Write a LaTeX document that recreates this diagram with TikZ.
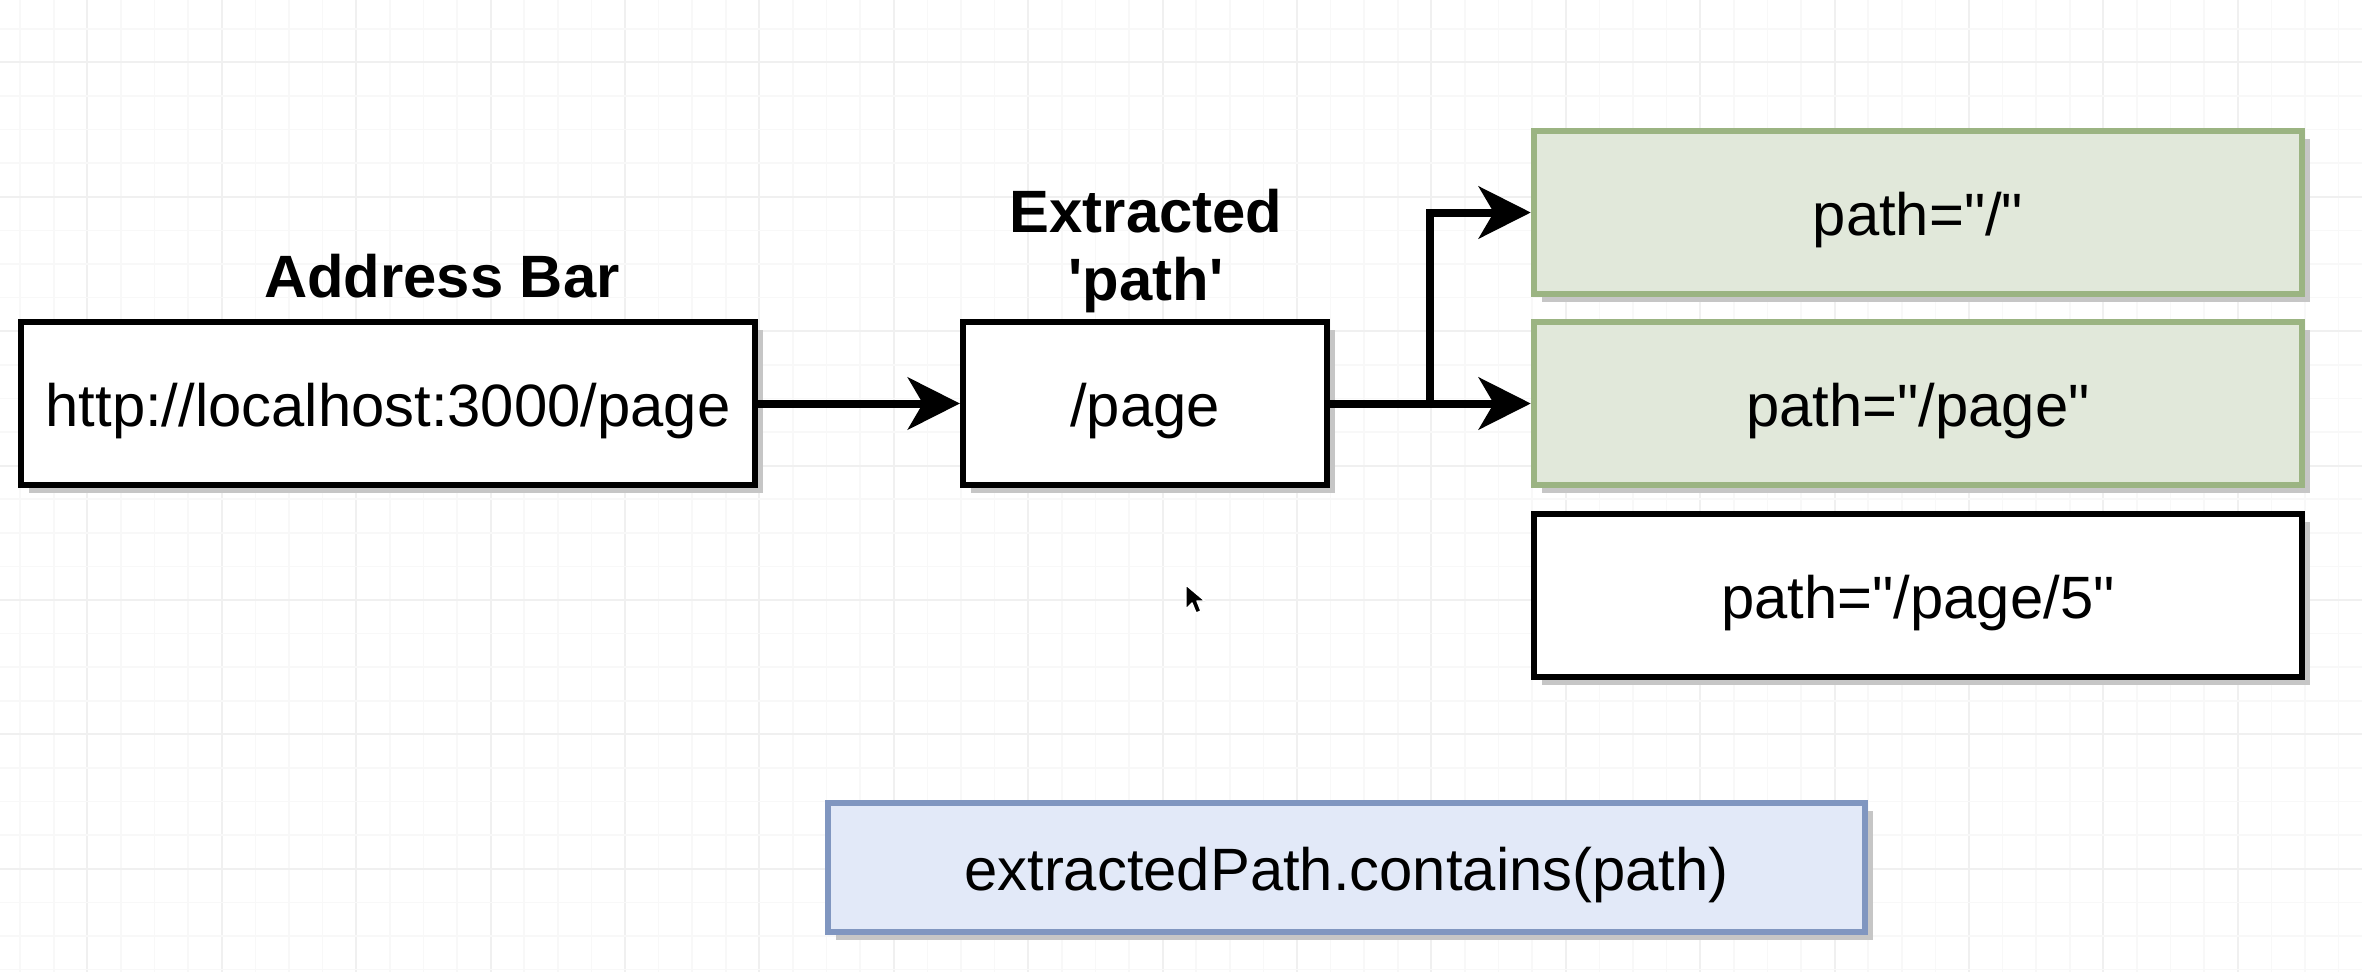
\documentclass[tikz,border=0pt]{standalone}
\usepackage{fontspec}
\newfontfamily\lsans{Liberation Sans}
\usetikzlibrary{arrows.meta,shadows}
\definecolor{gfill}{RGB}{225,232,218}
\definecolor{gdraw}{RGB}{155,180,130}
\definecolor{bfill}{RGB}{226,233,248}
\definecolor{bdraw}{RGB}{128,150,192}
\definecolor{shade}{RGB}{198,198,198}
\definecolor{gridminor}{RGB}{248,248,248}
\definecolor{gridmajor}{RGB}{240,240,240}
\begin{document}
\begin{tikzpicture}[x=0.01cm,y=-0.01cm,
  box/.style={draw=black, fill=white, line width=0.06cm, inner sep=0pt,
    minimum height=1.63cm, text height=0.6cm, text depth=0.14cm,
    font=\lsans\fontsize{17}{20}\selectfont,
    drop shadow={shadow xshift=0.08cm, shadow yshift=-0.08cm, fill=shade, opacity=1}},
  greenbox/.style={box, draw=gdraw, fill=gfill},
  bluebox/.style={box, draw=bdraw, fill=bfill},
  title/.style={font=\lsans\bfseries\fontsize{17}{19.4}\selectfont, inner sep=0pt, align=center},
  conn/.style={line width=0.08cm, -{Stealth[length=0.52cm,width=0.52cm,inset=0.15cm]}},
  cursor/.style={fill=black, draw=white, line width=0.4pt, line join=round}
]
\useasboundingbox (0,0) rectangle (2362,972);
\fill[white] (0,0) rectangle (2362,972);
% background grid
\foreach \k in {0,...,70} {
  \pgfmathsetmacro{\gx}{20.2+33.6*\k}
  \pgfmathtruncatemacro{\m}{mod(\k,4)}
  \ifnum\m=2
    \draw[gridmajor, line width=0.6pt] (\gx,0) -- (\gx,972);
  \else
    \draw[gridminor, line width=0.5pt] (\gx,0) -- (\gx,972);
  \fi
}
\foreach \k in {0,...,28} {
  \pgfmathsetmacro{\gy}{28.8+33.6*\k}
  \pgfmathtruncatemacro{\m}{mod(\k,4)}
  \ifnum\m=1
    \draw[gridmajor, line width=0.6pt] (0,\gy) -- (2362,\gy);
  \else
    \draw[gridminor, line width=0.5pt] (0,\gy) -- (2362,\gy);
  \fi
}

% labels
\node[title, anchor=base] (addrlabel) at (442,297) {Address Bar};
\node[title, anchor=south] (exlabel) at (1146,314) {Extracted\\'path'};

% boxes
\node[box, minimum width=7.34cm] (addr) at (388,403.5) {http://localhost:3000/page};
\node[box, minimum width=3.64cm] (page) at (1145,403.5) {/page};
\node[greenbox, minimum width=7.68cm] (g1) at (1918,212.5) {path="/"};
\node[greenbox, minimum width=7.68cm] (g2) at (1918,403.5) {path="/page"};
\node[box, minimum width=7.68cm] (w3) at (1918,595.5) {path="/page/5"};
\node[bluebox, minimum width=10.37cm, minimum height=1.29cm] (cond) at (1346.5,867.5) {extractedPath.contains(path)};

% connectors
\coordinate (split) at (1430,403.5);
\draw[conn] (addr.east) -- (page.west);
\draw[conn] (page.east) -- (g2.west);
\draw[conn] (split) |- (g1.west);

% mouse cursor
\draw[cursor] (1186,585) -- ++(0,24) -- ++(6,-6) -- ++(4,10) -- ++(5,-2) -- ++(-4,-10) -- ++(8,0) -- cycle;
\end{tikzpicture}
\end{document}
